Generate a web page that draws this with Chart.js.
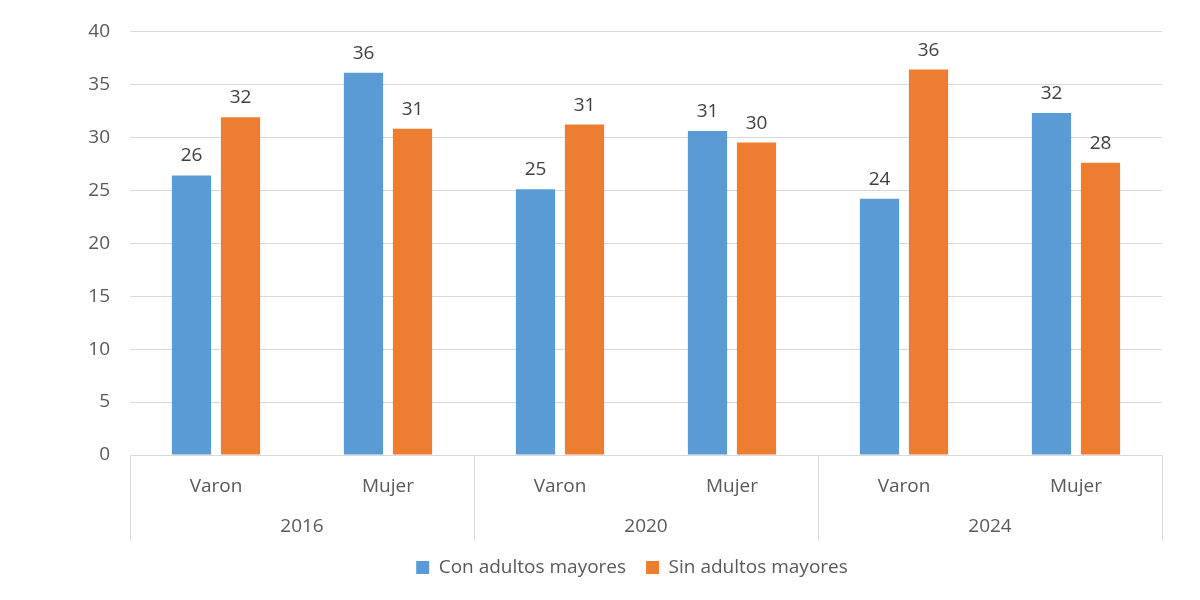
<!DOCTYPE html>
<html>
<head>
<meta charset="utf-8">
<script src="https://cdn.jsdelivr.net/npm/chart.js@4"></script>
<style>
  html, body { margin: 0; padding: 0; background: #fff; }
  #wrap { width: 1200px; height: 600px; }
</style>
</head>
<body>
<div id="wrap"><canvas id="myChart"></canvas></div>
<script>
const categories = ['Varon', 'Mujer', 'Varon', 'Mujer', 'Varon', 'Mujer'];
const years = ['2016', '2020', '2024'];
const conAdultos = [26.4, 36.1, 25.1, 30.6, 24.2, 32.3];
const sinAdultos = [31.9, 30.8, 31.2, 29.5, 36.4, 27.6];
const yTicks = [0, 5, 10, 15, 20, 25, 30, 35, 40];

const textColor = '#595959';
const gridColor = '#d9d9d9';
const fontFamily = "'Open Sans', sans-serif";

// value labels above each bar
const barLabels = {
    id: 'barLabels',
    afterDatasetsDraw(chart) {
        const ctx = chart.ctx;
        ctx.save();
        ctx.font = '19px ' + fontFamily;
        ctx.fillStyle = '#404040';
        ctx.textAlign = 'center';
        ctx.textBaseline = 'alphabetic';
        chart.data.datasets.forEach((ds, i) => {
            chart.getDatasetMeta(i).data.forEach((bar, j) => {
                ctx.fillText(Math.round(ds.data[j]), bar.x, bar.y - 14);
            });
        });
        ctx.restore();
    }
};

// vertical separators between the year groups
const groupLines = {
    id: 'groupLines',
    afterDraw(chart) {
        const x2 = chart.scales.x2;
        const ctx = chart.ctx;
        const step = (x2.right - x2.left) / years.length;
        ctx.save();
        ctx.strokeStyle = gridColor;
        ctx.lineWidth = 1;
        for (let i = 0; i <= years.length; i++) {
            const px = Math.round(x2.left + i * step) + 0.5;
            ctx.beginPath();
            ctx.moveTo(px, chart.chartArea.bottom);
            ctx.lineTo(px, chart.chartArea.bottom + 85);
            ctx.stroke();
        }
        ctx.restore();
    }
};

// nudge the legend a bit left, like the original
const legendShift = {
    id: 'legendShift',
    afterLayout(chart) {
        if (chart.legend) {
            chart.legend.left -= 14;
            chart.legend.right -= 14;
        }
    }
};

const ctx = document.getElementById('myChart').getContext('2d');
const chart = new Chart(ctx, {
    type: 'bar',
    data: {
        labels: categories,
        datasets: [{
            label: 'Con adultos mayores',
            data: conAdultos,
            backgroundColor: '#5B9BD5',
            categoryPercentage: 0.57,
            barPercentage: 0.8
        }, {
            label: 'Sin adultos mayores',
            data: sinAdultos,
            backgroundColor: '#ED7D31',
            categoryPercentage: 0.57,
            barPercentage: 0.8
        }]
    },
    options: {
        responsive: true,
        maintainAspectRatio: false,
        animation: false,
        layout: { padding: { left: 0, right: 38, top: 31, bottom: 13 } },
        font: { family: fontFamily },
        plugins: {
            tooltip: { enabled: false },
            legend: {
                position: 'bottom',
                fullSize: false,
                labels: {
                    boxWidth: 13,
                    boxHeight: 13,
                    padding: 20,
                    color: textColor,
                    font: { size: 19, family: fontFamily }
                }
            }
        },
        scales: {
            x: {
                grid: { display: false },
                border: { display: true, color: gridColor },
                ticks: { color: textColor, padding: 12, font: { size: 19, family: fontFamily } },
                afterFit(scale) { scale.height = 51; }
            },
            x2: {
                type: 'category',
                labels: years,
                position: 'bottom',
                offset: true,
                grid: { display: false },
                border: { display: false },
                ticks: { color: textColor, padding: 1, font: { size: 19, family: fontFamily } },
                afterFit(scale) { scale.height = 32; }
            },
            y: {
                min: 0,
                max: 40,
                afterBuildTicks(scale) { scale.ticks = yTicks.map(v => ({ value: v })); },
                grid: { color: gridColor, drawTicks: false },
                border: { display: false },
                ticks: { color: textColor, padding: 20, font: { size: 19, family: fontFamily } },
                afterFit(scale) { scale.width = 130; }
            }
        }
    },
    plugins: [barLabels, groupLines, legendShift]
});
</script>
</body>
</html>
